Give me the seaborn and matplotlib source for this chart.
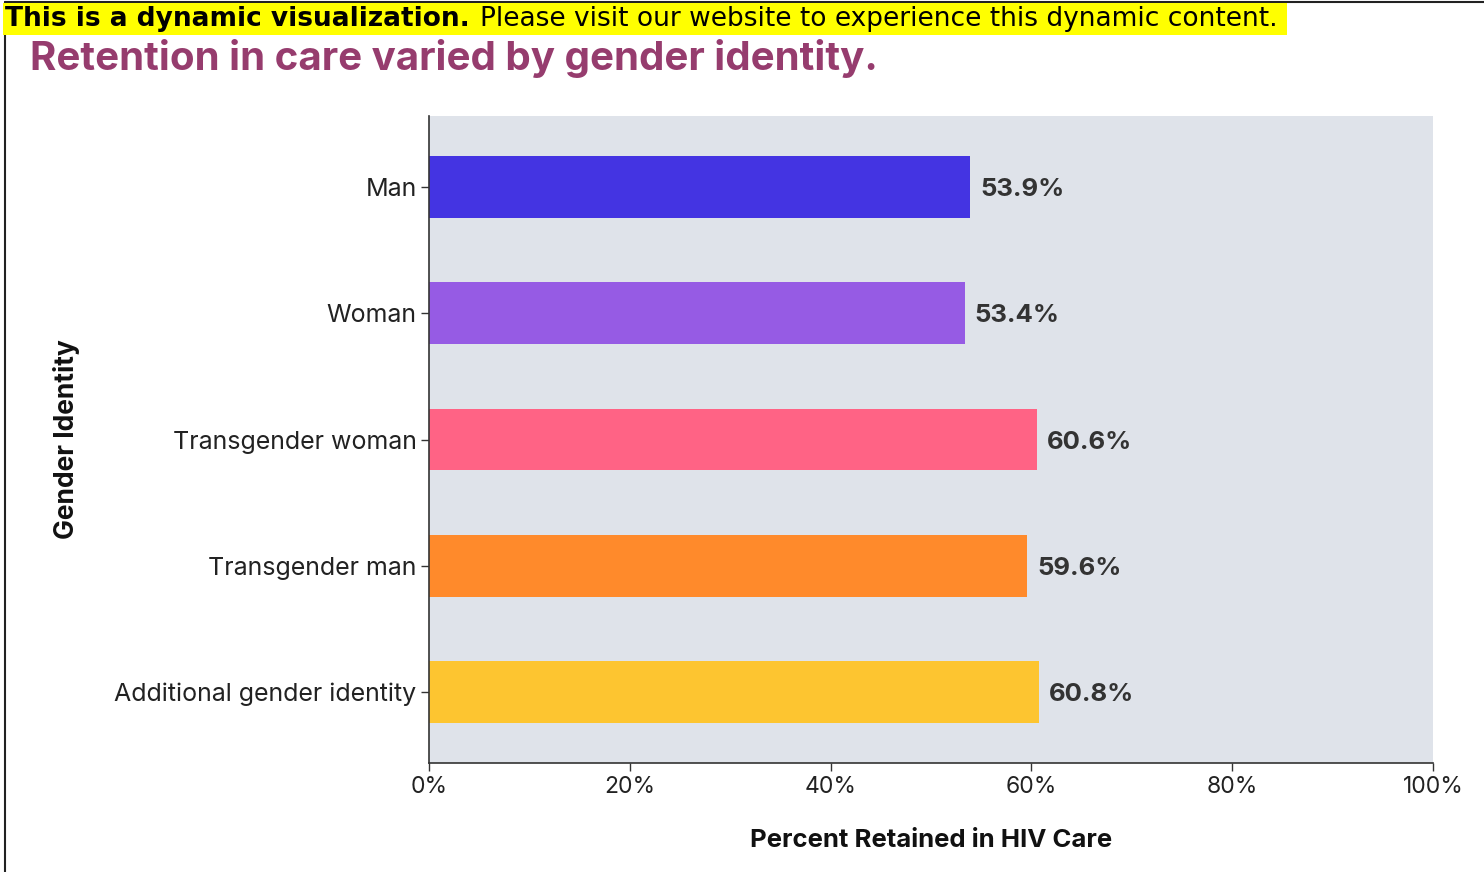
import matplotlib
matplotlib.use("Agg")
import matplotlib.pyplot as plt
import seaborn as sns
import pandas as pd
from matplotlib.patches import Rectangle
from matplotlib.lines import Line2D

categories = ["Man", "Woman", "Transgender woman", "Transgender man", "Additional gender identity"]
values = [53.9, 53.4, 60.6, 59.6, 60.8]
colors = ["#4434E2", "#965BE4", "#FF6385", "#FF8A2B", "#FDC530"]
xticks = [0, 20, 40, 60, 80, 100]
xtick_labels = ["0%", "20%", "40%", "60%", "80%", "100%"]

sns.set_theme(style="white")
plt.rcParams["font.family"] = ["Inter", "DejaVu Sans"]

W, H = 1484, 872
fig = plt.figure(figsize=(W / 100, H / 100), dpi=100)

df = pd.DataFrame({"Gender Identity": categories, "Percent": values})

ax = fig.add_axes([429 / W, (H - 763) / H, (1433 - 429) / W, (763 - 116) / H])
sns.barplot(data=df, y="Gender Identity", x="Percent", hue="Gender Identity",
            palette=colors, orient="h", width=0.49, ax=ax, legend=False,
            saturation=1, linewidth=0)
ax.set_facecolor("#DFE3EA")
ax.set_xlim(0, 100)
ax.set_ylim(4.56, -0.56)
ax.set_xticks(xticks)
ax.set_xticklabels(xtick_labels)
for s in ["top", "right"]:
    ax.spines[s].set_visible(False)
for s in ["left", "bottom"]:
    ax.spines[s].set_color("#333333")
    ax.spines[s].set_linewidth(1.2)
ax.tick_params(axis="y", labelsize=18)
ax.tick_params(axis="x", labelsize=16.5)
ax.tick_params(axis="both", which="both", length=6, width=1, color="#333333",
               labelcolor="#222222", left=True, bottom=True, pad=3)
ax.set_xlabel("Percent Retained in HIV Care", fontsize=18.5, fontweight="bold",
              color="#111111")
ax.set_ylabel("Gender Identity", fontsize=19, fontweight="bold",
              color="#111111")
ax.xaxis.set_label_coords(0.5, -(840 - 763) / 647)
ax.yaxis.set_label_coords(-(429 - 67) / 1004, 0.5)
ax.xaxis.label.set_va("center")
ax.yaxis.label.set_va("center")

for cont in ax.containers:
    txts = ax.bar_label(cont, labels=[f"{v:.1f}%" for v in cont.datavalues],
                        padding=7, fontsize=18.5, fontweight="bold",
                        color="#333333")
    for t in txts:
        t.set_va("center_baseline")

# Title
fig.text(30 / W, 1 - 58 / H, "Retention in care varied by gender identity.",
         fontsize=29, fontweight="bold", color="#963C6E", va="center", ha="left")

# Frame lines
fig.add_artist(Line2D([4.5 / W, 4.5 / W], [0, 1 - 2 / H], color="#222222", lw=1.5))
fig.add_artist(Line2D([4.5 / W, 1], [1 - 2 / H, 1 - 2 / H], color="#222222", lw=1.5))

# Banner
fig.add_artist(Rectangle((3 / W, 1 - 35 / H), (1287 - 3) / W, 32 / H,
                         transform=fig.transFigure, facecolor="#FFFF00",
                         edgecolor="none", zorder=5))
t1 = fig.text(5 / W, 1 - 19 / H, "This is a dynamic visualization.",
              fontsize=19, fontweight="bold", color="black", va="center",
              ha="left", family="DejaVu Sans", zorder=6)
fig.canvas.draw()
r = fig.canvas.get_renderer()
bb = t1.get_window_extent(renderer=r)
fig.text((bb.x1 + 10) / W, 1 - 19 / H,
         "Please visit our website to experience this dynamic content.",
         fontsize=19, color="black", va="center", ha="left",
         family="DejaVu Sans", zorder=6)

fig.savefig("out.png", dpi=100)
